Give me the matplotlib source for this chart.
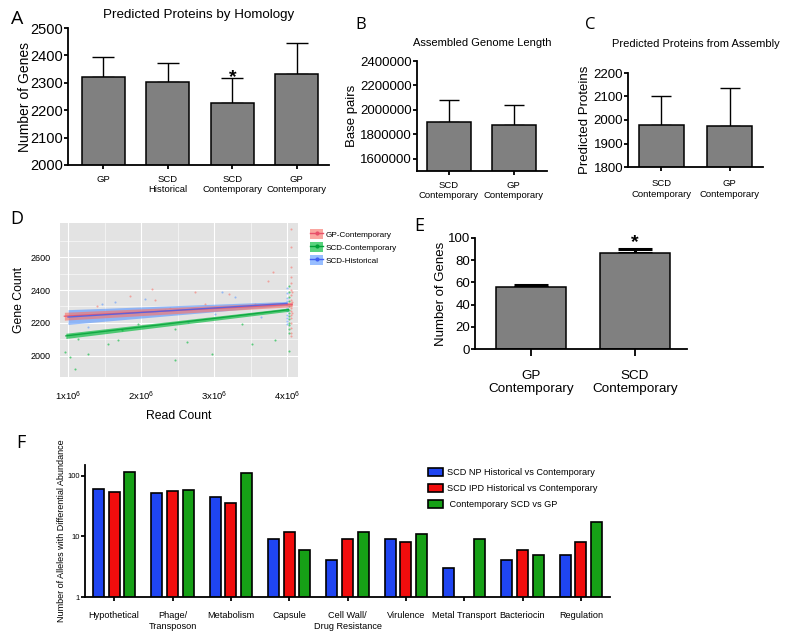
import matplotlib
matplotlib.use('Agg')
import matplotlib.pyplot as plt
import numpy as np
from matplotlib.patches import Patch
from matplotlib.lines import Line2D
from matplotlib.ticker import FixedLocator, NullLocator

plt.rcParams['font.family'] = ['Liberation Sans', 'DejaVu Sans']
plt.rcParams['mathtext.fontset'] = 'custom'
plt.rcParams['mathtext.rm'] = 'Liberation Sans'
plt.rcParams['mathtext.it'] = 'Liberation Sans:italic'

# ---------------- data ----------------
# Panel A
a_cats = ['GP', 'SCD\nHistorical', 'SCD\nContemporary', 'GP\nContemporary']
a_vals = [2321, 2302, 2226, 2333]
a_errtop = [2393, 2372, 2317, 2445]
a_ticks = [2000, 2100, 2200, 2300, 2400, 2500]

# Panel B
b_cats = ['SCD\nContemporary', 'GP\nContemporary']
b_vals = [1900000, 1880000]
b_errtop = [2080000, 2040000]
b_ticks = [1600000, 1800000, 2000000, 2200000, 2400000]

# Panel C
c_cats = ['SCD\nContemporary', 'GP\nContemporary']
c_vals = [1980, 1976]
c_errtop = [2104, 2137]
c_ticks = [1800, 1900, 2000, 2100, 2200]

# Panel E
e_cats = ['GP\nContemporary', 'SCD\nContemporary']
e_vals = [55.5, 86.5]
e_errtop = [57.5, 90.0]
e_ticks = [0, 20, 40, 60, 80, 100]

# Panel D (read count in millions, gene count)
d_series = ['GP-Contemporary', 'SCD-Contemporary', 'SCD-Historical']
gp_x = [1.85, 2.15, 2.19, 2.74, 3.20, 3.56, 3.74, 3.81, 2.88, 1.40, 2.40,
        4.06, 4.06, 4.06, 4.06, 4.06, 4.06, 4.06, 4.06, 4.06, 4.06, 4.06,
        4.06, 4.06, 4.06, 4.06, 4.06, 4.06, 4.07, 4.07, 4.07]
gp_y = [2366, 2407, 2336, 2387, 2376, 2315, 2458, 2509, 2315, 2300, 2290,
        2773, 2663, 2539, 2480, 2440, 2400, 2370, 2340, 2310, 2290, 2270,
        2250, 2230, 2200, 2170, 2140, 2122, 2385, 2325, 2260]
scdc_x = [1.03, 1.10, 1.28, 0.96, 1.55, 1.69, 2.47, 2.63, 2.97, 3.52, 3.84,
          1.14, 1.74, 2.47, 1.96, 3.38,
          4.02, 4.02, 4.02, 4.02, 4.02, 4.02, 4.02, 4.02, 4.02, 4.02, 4.02,
          4.02, 4.02, 4.02]
scdc_y = [1990, 1919, 2010, 2021, 2071, 2092, 1970, 2082, 2010, 2071, 2092,
          2102, 2153, 2163, 2193, 2193,
          2427, 2390, 2360, 2330, 2300, 2280, 2260, 2240, 2220, 2200, 2185,
          2163, 2140, 2030]
scdh_x = [1.28, 1.46, 1.64, 2.05, 2.33, 2.65, 3.01, 3.29, 3.65, 3.11,
          4.00, 4.00, 4.00, 4.00, 4.00, 4.00, 4.00, 4.00, 4.00, 4.00, 4.00]
scdh_y = [2173, 2315, 2326, 2346, 2275, 2204, 2254, 2356, 2234, 2387,
          2410, 2380, 2350, 2330, 2310, 2290, 2270, 2250, 2230, 2210, 2190]
# linear fits (endpoints) and confidence half widths
gp_fit_x = [0.95, 4.07]
gp_fit_y = [2240, 2312]
gp_fit_ci = [24, 14]
scdc_fit_x = [0.97, 4.02]
scdc_fit_y = [2120, 2280]
scdc_fit_ci = [16, 10]
scdh_fit_x = [1.00, 4.00]
scdh_fit_y = [2235, 2318]
scdh_fit_ci = [45, 12]
d_xticks = [1, 2, 3, 4]
d_xlabels = [r'1x10$^6$', r'2x10$^6$', r'3x10$^6$', r'4x10$^6$']
d_yticks = [2000, 2200, 2400, 2600]

# Panel F
f_cats = ['Hypothetical', 'Phage/\nTransposon', 'Metabolism', 'Capsule',
          'Cell Wall/\nDrug Resistance', 'Virulence', 'Metal Transport',
          'Bacteriocin', 'Regulation']
f_np = [60, 52, 45, 9, 4, 9, 3, 4, 5]
f_ipd = [54, 56, 35, 12, 9, 8, 0, 6, 8]
f_gp = [113, 57, 112, 6, 12, 11, 9, 5, 17]
f_labels = ['SCD NP Historical vs Contemporary',
            'SCD IPD Historical vs Contemporary',
            ' Contemporary SCD vs GP']

# ---------------- layout helpers ----------------
W, H = 800, 640
fig = plt.figure(figsize=(8, 6.4), dpi=100)


def box(x0, y0, x1, y1):
    return [x0 / W, 1 - y1 / H, (x1 - x0) / W, (y1 - y0) / H]


def fx(px):
    return px / W


def fy(py):
    return 1 - py / H


def prism(ax, lw=1.3):
    for s in ['top', 'right']:
        ax.spines[s].set_visible(False)
    for s in ['left', 'bottom']:
        ax.spines[s].set_linewidth(lw)
    ax.tick_params(direction='out', width=lw, length=3.0, pad=0.5)


def bar_panel(ax, cats, vals, errtop, width, capsize, elw, xlim, ylim, yticks,
              tick_fs, cat_fs, ylab, ylab_fs, title=None, title_fs=8,
              title_pad=6, cat_pad=3, ylab_pad=2):
    x = np.arange(len(cats))
    vals = np.array(vals, float)
    err = np.array(errtop, float) - vals
    ax.errorbar(x, vals, yerr=[np.zeros_like(err), err], fmt='none',
                ecolor='black', elinewidth=elw, capsize=capsize,
                capthick=elw, zorder=1)
    ax.bar(x, vals, width, color='#808080', edgecolor='black',
           linewidth=1.1, zorder=2)
    ax.set_xlim(*xlim)
    ax.set_ylim(*ylim)
    ax.set_yticks(yticks)
    ax.set_yticklabels([str(t) for t in yticks], fontsize=tick_fs)
    ax.set_xticks(x)
    ax.set_xticklabels(cats, fontsize=cat_fs, linespacing=1.15)
    prism(ax)
    ax.tick_params(axis='x', pad=cat_pad)
    ax.set_ylabel(ylab, fontsize=ylab_fs, labelpad=ylab_pad)
    if title:
        ax.set_title(title, fontsize=title_fs, pad=title_pad)
    return x


# ---------------- Panel A ----------------
axA = fig.add_axes(box(68, 28, 329, 165))
xA = bar_panel(axA, a_cats, a_vals, a_errtop, 0.667, 8, 1.0, (-0.55, 3.5),
               (2000, 2500), a_ticks, 10.5, 6.8, 'Number of Genes', 10,
               'Predicted Proteins by Homology', 9.6, title_pad=7,
               cat_pad=4, ylab_pad=-1)
axA.text(xA[2], 2303, '*', ha='center', va='baseline', fontsize=14,
         fontweight='bold')

# ---------------- Panel B ----------------
axB = fig.add_axes(box(417, 61, 547, 171))
bar_panel(axB, b_cats, b_vals, b_errtop, 0.68, 7, 1.0, (-0.49, 1.51),
          (1500000, 2400000), b_ticks, 9.5, 6.8, 'Base pairs', 9.5,
          'Assembled Genome Length', 8, title_pad=11, cat_pad=4,
          ylab_pad=2)

# ---------------- Panel C ----------------
axC = fig.add_axes(box(628, 73, 763, 167))
bar_panel(axC, c_cats, c_vals, c_errtop, 0.66, 7, 1.0, (-0.49, 1.49),
          (1800, 2200), c_ticks, 9.5, 6.8, 'Predicted Proteins', 9.5,
          'Predicted Proteins from Assembly', 8, title_pad=19, cat_pad=6,
          ylab_pad=2)

# ---------------- Panel E ----------------
axE = fig.add_axes(box(475, 238, 687, 349))
xE = bar_panel(axE, e_cats, e_vals, e_errtop, 0.67, 12, 2.2, (-0.54, 1.5),
               (0, 100), e_ticks, 9.5, 9.7, 'Number of Genes', 9.5,
               cat_pad=10, ylab_pad=1)
axE.tick_params(axis='x', length=5)
axE.text(xE[1], 92, '*', ha='center', va='baseline', fontsize=14,
         fontweight='bold', clip_on=False)

# ---------------- Panel D ----------------
axD = fig.add_axes(box(60, 223, 298, 377))
axD.set_facecolor('#E3E3E3')
for s in axD.spines.values():
    s.set_visible(False)
d_cols = ['#F8766D', '#00BA38', '#619CFF']
d_line_cols = ['#E8506A', '#00A035', '#4060F0']
d_px = [gp_x, scdc_x, scdh_x]
d_py = [gp_y, scdc_y, scdh_y]
d_fx = [gp_fit_x, scdc_fit_x, scdh_fit_x]
d_fyv = [gp_fit_y, scdc_fit_y, scdh_fit_y]
d_ci = [gp_fit_ci, scdc_fit_ci, scdh_fit_ci]
for xs, ys, c in zip(d_px, d_py, d_cols):
    axD.plot(np.array(xs) * 1e6, ys, 'o', ms=1.5, color=c, alpha=0.6,
             mec='none', zorder=2)
for i in [2, 1, 0]:
    x = np.array(d_fx[i]) * 1e6
    y = np.array(d_fyv[i], float)
    ci = np.array(d_ci[i], float)
    axD.fill_between(x, y - ci, y + ci, color=d_cols[i], alpha=0.65,
                     lw=0, zorder=3)
for i in [1, 0, 2]:
    x = np.array(d_fx[i]) * 1e6
    axD.plot(x, d_fyv[i], color=d_line_cols[i], lw=1.0, alpha=0.8, zorder=4)
axD.set_xlim(0.89e6, 4.15e6)
axD.set_ylim(1869, 2809)
axD.set_xticks(np.array(d_xticks) * 1e6)
axD.set_xticklabels(d_xlabels, fontsize=6.8)
axD.set_yticks(d_yticks)
axD.set_yticklabels([str(t) for t in d_yticks], fontsize=6.5)
axD.xaxis.set_minor_locator(FixedLocator(np.array([1.5, 2.5, 3.5]) * 1e6))
axD.yaxis.set_minor_locator(FixedLocator([2100, 2300, 2500, 2700]))
axD.grid(True, which='major', color='white', lw=0.8)
axD.grid(True, which='minor', color='white', lw=0.4)
axD.set_axisbelow(True)
axD.tick_params(which='both', length=0)
axD.tick_params(axis='x', pad=9)
axD.tick_params(axis='y', pad=7)
axD.set_xlabel('Read Count', fontsize=8.8, labelpad=5)
axD.set_ylabel('Gene Count', fontsize=8.8, labelpad=4)
d_handles = []
for c, lc in zip(d_cols, d_line_cols):
    d_handles.append((Patch(facecolor=c, alpha=0.65, edgecolor='none'),
                      Line2D([], [], color=lc, lw=1, marker='o', ms=2)))
axD.legend(d_handles, d_series, loc='upper left',
           bbox_to_anchor=(fx(306), fy(225)), bbox_transform=fig.transFigure,
           frameon=False, fontsize=5.9, handlelength=1.6, handleheight=1.5,
           labelspacing=0.35, handletextpad=0.3, borderpad=0)

# ---------------- Panel F ----------------
axF = fig.add_axes(box(85, 465, 610, 597))
xF = np.arange(len(f_cats))
f_cols = ['#1F45F2', '#F20D0D', '#16A016']
off = 0.27
bw = 0.19
for vals, c, dx, lab in zip([f_np, f_ipd, f_gp], f_cols, [-off, 0, off],
                            f_labels):
    v = np.array(vals, float)
    m = v > 0
    axF.bar(xF[m] + dx, v[m], bw, bottom=0.01, color=c, edgecolor='black',
            linewidth=1.2, label=lab, zorder=2)
axF.set_yscale('log')
axF.set_ylim(1, 150)
axF.set_xlim(-0.5, 8.5)
axF.set_yticks([1, 10, 100])
axF.set_yticklabels(['1', '10', '100'], fontsize=5.5)
axF.yaxis.set_minor_locator(NullLocator())
axF.set_xticks(xF)
axF.set_xticklabels(f_cats, fontsize=6.6, linespacing=1.25)
prism(axF, 1.3)
axF.tick_params(axis='y', length=3)
axF.tick_params(axis='x', pad=7)
axF.set_ylabel('Number of Alleles with Differential Abundance',
               fontsize=6.5, labelpad=1)
axF.legend(loc='upper left', bbox_to_anchor=(fx(423), fy(463)),
           bbox_transform=fig.transFigure, frameon=False, fontsize=6.6,
           handlelength=1.7, handleheight=1.0, labelspacing=0.75,
           handletextpad=0.4, borderpad=0)

# ---------------- Panel letters ----------------
lf = ['Open Sans', 'DejaVu Sans']
fig.text(fx(17), fy(19), 'A', fontsize=14, family=lf, ha='center', va='center')
fig.text(fx(361), fy(25), 'B', fontsize=12, family=lf, ha='center', va='center')
fig.text(fx(590), fy(25), 'C', fontsize=12, family=lf, ha='center', va='center')
fig.text(fx(17), fy(219), 'D', fontsize=13, family=lf, ha='center', va='center')
fig.text(fx(419), fy(226), 'E', fontsize=13, family=lf, ha='center', va='center')
fig.text(fx(21), fy(443), 'F', fontsize=13, family=lf, ha='center', va='center')

fig.savefig('out.png', dpi=100)
